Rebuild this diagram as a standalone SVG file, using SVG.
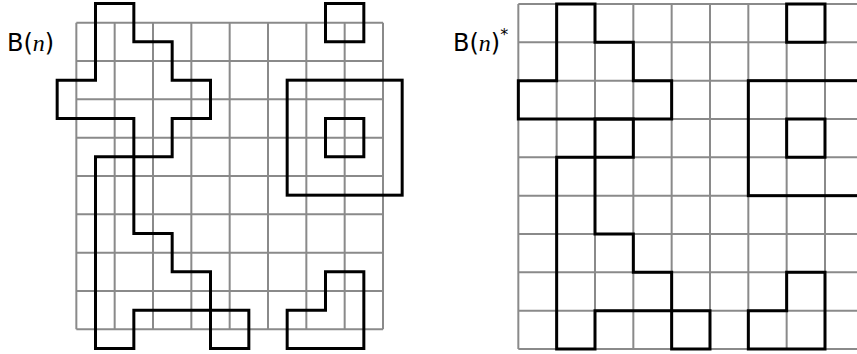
<svg xmlns="http://www.w3.org/2000/svg" width="857" height="354" viewBox="0 0 857 354">
<style>
.grid{stroke:#8a8a8a;stroke-width:2;fill:none}
.curve{stroke:#000;stroke-width:3;fill:none;stroke-linejoin:miter;stroke-linecap:square}
.lbl{font-family:"DejaVu Sans",sans-serif;font-size:24px;fill:#000}
.it{font-family:"Liberation Serif",serif;font-style:italic}
</style>
<defs>
<path id="sq" d="M0,0h38.33v38.33h-38.33z"/>
</defs>
<g id="panel-left" transform="translate(57.17,3.5)">
<g id="grid-left" class="grid">
<path d="M19.17,19.17V325.83M57.5,19.17V325.83M95.83,19.17V325.83M134.17,19.17V325.83M172.5,19.17V325.83M210.83,19.17V325.83M249.17,19.17V325.83M287.5,19.17V325.83M325.83,19.17V325.83"/>
<path d="M19.17,19.17H325.83M19.17,57.5H325.83M19.17,95.83H325.83M19.17,134.17H325.83M19.17,172.5H325.83M19.17,210.83H325.83M19.17,249.17H325.83M19.17,287.5H325.83M19.17,325.83H325.83"/>
</g>
<g id="curves-left" class="curve">
<path d="M38.33,0H76.67V38.33H115V76.67H153.33V115H115V153.33H38.33V345H76.67V306.67H191.67V345H153.33V268.33H115V230H76.67V115H0V76.67H38.33Z"/>
<use href="#sq" x="268.33" y="0"/>
<use href="#sq" x="268.33" y="115"/>
<rect x="230" y="76.67" width="115" height="115"/>
<path d="M230,306.67H268.33V268.33H306.67V345H230Z"/>
</g>
</g>
<g id="panel-right" transform="translate(518.33,4)">
<g id="grid-right" class="grid">
<path d="M0,0V345M38.33,0V345M76.67,0V345M115,0V345M153.33,0V345M191.67,0V345M230,0V345M268.33,0V345M306.67,0V345M345,0V345"/>
<path d="M0,0H345M0,38.33H345M0,76.67H345M0,115H345M0,153.33H345M0,191.67H345M0,230H345M0,268.33H345M0,306.67H345M0,345H345"/>
</g>
<g id="curves-right" class="curve">
<path d="M38.33,0H76.67V38.33H115V76.67H153.33V115H0V76.67H38.33Z"/>
<path d="M76.67,115H115V153.33H38.33V345H76.67V306.67H153.33V268.33H115V230H76.67Z"/>
<use href="#sq" x="153.33" y="306.67"/>
<use href="#sq" x="268.33" y="0"/>
<use href="#sq" x="268.33" y="115"/>
<rect x="230" y="76.67" width="115" height="115"/>
<path d="M230,306.67H268.33V268.33H306.67V345H230Z"/>
</g>
</g>
<g id="labels">
<text class="lbl" x="7" y="50.5">B(<tspan class="it">n</tspan>)</text>
<text class="lbl" x="453" y="50.5">B(<tspan class="it">n</tspan>)<tspan font-size="16" dy="-11">*</tspan></text>
</g>
</svg>
